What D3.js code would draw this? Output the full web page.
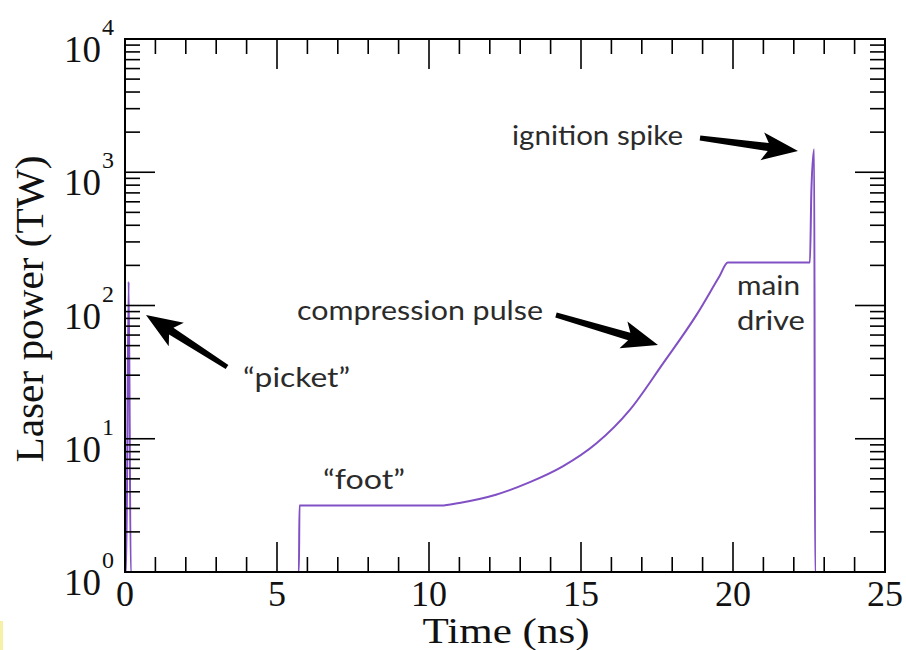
<!DOCTYPE html>
<html>
<head>
<meta charset="utf-8">
<script src="https://cdn.jsdelivr.net/npm/d3@7"></script>
<style>
  html, body { margin: 0; padding: 0; background: #ffffff; }
  svg { display: block; }
</style>
</head>
<body>
<svg id="chart" width="906" height="650"></svg>
<script>
// ---- Data ----
const timeNs  = [0, 0.04, 0.12, 0.19, 5.72, 5.74, 10.4, 11.0, 12.2, 13.3, 14.4, 15.5, 16.6, 17.7, 18.8, 19.55, 19.83, 22.53, 22.58, 22.67, 22.70, 25];
const powerTW = [1, 1,    151,  1,    1,    3.15, 3.15, 3.3,  3.8,  4.7,  6.2,  9.2,  16.4, 36.8, 85,   165,   210,   210,   750,   1490,  1,     1];

const xTickValues = [0, 5, 10, 15, 20, 25];
const xMinorValues = d3.range(0, 26, 1);
const yDecadeExponents = [0, 1, 2, 3, 4];
const yMinorMultipliers = [2, 3, 4, 5, 6, 7, 8, 9];

const xTitle = "Time (ns)";
const yTitle = "Laser power (TW)";
const annotationLabels = ["ignition spike", "compression pulse", "main", "drive", "\u201cpicket\u201d", "\u201cfoot\u201d"];

// ---- Layout ----
const svg = d3.select("#chart");
const L = 125, R = 885, T = 39, B = 572;

const x = d3.scaleLinear().domain([0, 25]).range([L, R]);
const y = d3.scaleLog().domain([1, 1e4]).range([B, T]);

const serif = "'Liberation Serif', 'Times New Roman', serif";
const sans = "Lato, 'Open Sans', sans-serif";

// faint yellow mark at lower-left edge
svg.append("rect").attr("x", 0).attr("y", 621).attr("width", 3).attr("height", 29).attr("fill", "#f7f1a8");

// ---- Data line ----
svg.append("clipPath").attr("id", "clip")
  .append("rect").attr("x", L).attr("y", T - 2).attr("width", R - L).attr("height", B - T + 2);

const pts = timeNs.map((t, i) => ({ t, p: powerTW[i] }));
const line = d3.line().x(d => x(d.t)).y(d => y(d.p)).curve(d3.curveMonotoneX);
svg.append("path")
  .attr("d", line(pts))
  .attr("fill", "none")
  .attr("stroke", "#8050c4")
  .attr("stroke-width", 2)
  .attr("clip-path", "url(#clip)");

// ---- Ticks (inward on all four sides) ----
const tickG = svg.append("g").attr("stroke", "#000").attr("stroke-width", 1.6);
const majorLen = 30, minorLen = 15;
xMinorValues.forEach(v => {
  const len = (v % 5 === 0) ? majorLen : minorLen;
  if (v === 0 || v === 25) return;
  tickG.append("line").attr("x1", x(v)).attr("x2", x(v)).attr("y1", B).attr("y2", B - len);
  tickG.append("line").attr("x1", x(v)).attr("x2", x(v)).attr("y1", T).attr("y2", T + len);
});
yDecadeExponents.forEach(e => {
  const v = Math.pow(10, e);
  if (e > 0 && e < 4) {
    tickG.append("line").attr("x1", L).attr("x2", L + majorLen).attr("y1", y(v)).attr("y2", y(v));
    tickG.append("line").attr("x1", R).attr("x2", R - majorLen).attr("y1", y(v)).attr("y2", y(v));
  }
  if (e < 4) {
    yMinorMultipliers.forEach(m => {
      const mv = m * v;
      tickG.append("line").attr("x1", L).attr("x2", L + minorLen).attr("y1", y(mv)).attr("y2", y(mv));
      tickG.append("line").attr("x1", R).attr("x2", R - minorLen).attr("y1", y(mv)).attr("y2", y(mv));
    });
  }
});

// frame
svg.append("rect").attr("x", L).attr("y", T).attr("width", R - L).attr("height", B - T)
  .attr("fill", "none").attr("stroke", "#000").attr("stroke-width", 2);

// ---- Tick labels ----
xTickValues.forEach(v => {
  svg.append("text").attr("x", x(v)).attr("y", 606)
    .attr("text-anchor", "middle").attr("font-family", serif).attr("font-size", 36)
    .attr("fill", "#111").text(v);
});
yDecadeExponents.forEach(e => {
  const yy = y(Math.pow(10, e));
  svg.append("text").attr("x", 101).attr("y", yy + 23)
    .attr("text-anchor", "end").attr("font-family", serif).attr("font-size", 37)
    .attr("fill", "#111").text("10");
  svg.append("text").attr("x", 102).attr("y", yy - 4)
    .attr("text-anchor", "start").attr("font-family", serif).attr("font-size", 24)
    .attr("fill", "#111").text(e);
});

// ---- Axis titles ----
svg.append("text").attr("x", 506).attr("y", 643)
  .attr("text-anchor", "middle").attr("font-family", serif).attr("font-size", 36)
  .attr("textLength", 167).attr("lengthAdjust", "spacingAndGlyphs")
  .attr("fill", "#111").text(xTitle);
svg.append("text")
  .attr("transform", "translate(43,309) rotate(-90)")
  .attr("text-anchor", "middle").attr("font-family", serif).attr("font-size", 40)
  .attr("textLength", 307).attr("lengthAdjust", "spacingAndGlyphs")
  .attr("fill", "#111").text(yTitle);

// ---- Annotations ----
const annPos = [
  { x: 512, y: 145, w: 171 },
  { x: 297, y: 320, w: 246 },
  { x: 737, y: 295, w: 63 },
  { x: 737, y: 330, w: 68 },
  { x: 243, y: 387, w: 107 },
  { x: 323, y: 489, w: 82 }
];
annotationLabels.forEach((s, i) => {
  const a = annPos[i];
  svg.append("text").attr("x", a.x).attr("y", a.y)
    .attr("font-family", sans).attr("font-size", 27).attr("fill", "#2b2b2b")
    .attr("textLength", a.w).attr("lengthAdjust", "spacingAndGlyphs")
    .text(s);
});

function arrow(x1, y1, x2, y2) {
  const len = Math.hypot(x2 - x1, y2 - y1);
  const ang = Math.atan2(y2 - y1, x2 - x1) * 180 / Math.PI;
  const hl = 30;
  const d = `M0,-2.5 L${len - hl},-4 L${len - hl - 6},-14 L${len},0 L${len - hl - 6},14 L${len - hl},4 L0,2.5 Z`;
  svg.append("path").attr("d", d)
    .attr("transform", `translate(${x1},${y1}) rotate(${ang})`)
    .attr("fill", "#000");
}
arrow(227, 367, 146, 315);
arrow(556, 315, 658, 345);
arrow(700, 138, 798, 151);
</script>
</body>
</html>
